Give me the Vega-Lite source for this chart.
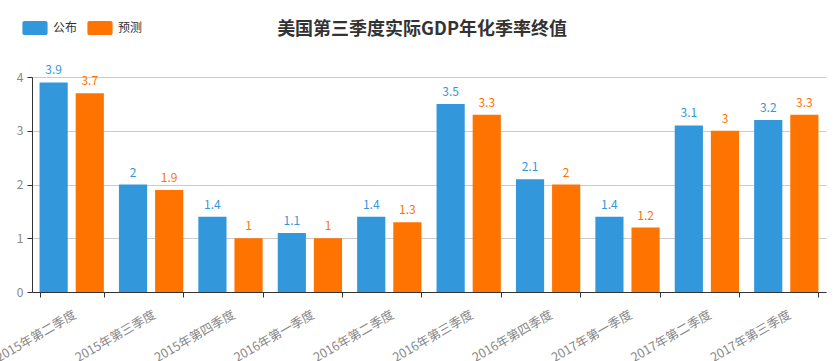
{
  "$schema": "https://vega.github.io/schema/vega-lite/v6.json",
  "width": 794,
  "height": 215,
  "autosize": {"type": "none"},
  "padding": {"left": 32, "top": 77, "right": 11, "bottom": 69},
  "background": "white",
  "title": {
    "text": "美国第三季度实际GDP年化季率终值",
    "font": "Noto Sans CJK SC",
    "fontSize": 18,
    "fontWeight": "bold",
    "color": "#333",
    "anchor": "middle",
    "offset": 0,
    "dy": 18,
    "dx": -7
  },
  "data": {
    "values": [
      {"q": "2015年第二季度", "s": "公布", "v": 3.9},
      {"q": "2015年第二季度", "s": "预测", "v": 3.7},
      {"q": "2015年第三季度", "s": "公布", "v": 2},
      {"q": "2015年第三季度", "s": "预测", "v": 1.9},
      {"q": "2015年第四季度", "s": "公布", "v": 1.4},
      {"q": "2015年第四季度", "s": "预测", "v": 1},
      {"q": "2016年第一季度", "s": "公布", "v": 1.1},
      {"q": "2016年第一季度", "s": "预测", "v": 1},
      {"q": "2016年第二季度", "s": "公布", "v": 1.4},
      {"q": "2016年第二季度", "s": "预测", "v": 1.3},
      {"q": "2016年第三季度", "s": "公布", "v": 3.5},
      {"q": "2016年第三季度", "s": "预测", "v": 3.3},
      {"q": "2016年第四季度", "s": "公布", "v": 2.1},
      {"q": "2016年第四季度", "s": "预测", "v": 2},
      {"q": "2017年第一季度", "s": "公布", "v": 1.4},
      {"q": "2017年第一季度", "s": "预测", "v": 1.2},
      {"q": "2017年第二季度", "s": "公布", "v": 3.1},
      {"q": "2017年第二季度", "s": "预测", "v": 3},
      {"q": "2017年第三季度", "s": "公布", "v": 3.2},
      {"q": "2017年第三季度", "s": "预测", "v": 3.3}
    ]
  },
  "encoding": {
    "x": {
      "field": "q",
      "type": "nominal",
      "sort": null,
      "title": null,
      "scale": {"paddingInner": 0.19, "paddingOuter": 0.095},
      "axis": {
        "labelAngle": -30,
        "labelAlign": "right",
        "labelBaseline": "top",
        "labelFont": "Noto Sans CJK SC",
        "labelFontSize": 12.5,
        "labelColor": "#888",
        "labelPadding": 11,
        "tickBand": "extent",
        "tickSize": 5,
        "tickColor": "#333",
        "domainColor": "#333",
        "labelOverlap": false
      }
    },
    "xOffset": {
      "field": "s",
      "type": "nominal",
      "scale": {"paddingInner": 0.22, "paddingOuter": 0}
    },
    "y": {
      "field": "v",
      "type": "quantitative",
      "title": null,
      "scale": {"domain": [0, 4], "nice": false},
      "axis": {
        "values": [0, 1, 2, 3, 4],
        "labelFont": "Noto Sans CJK SC",
        "labelFontSize": 12,
        "labelColor": "#888",
        "labelPadding": 4,
        "tickSize": 5,
        "tickColor": "#333",
        "domainColor": "#333",
        "gridColor": "#ccc"
      }
    },
    "color": {
      "field": "s",
      "type": "nominal",
      "title": null,
      "scale": {"domain": ["公布", "预测"], "range": ["#3398DB", "#FF7300"]},
      "legend": {
        "orient": "none",
        "legendX": -4,
        "legendY": -56,
        "direction": "horizontal",
        "symbolType": "M-1.5,-1H1.5A0.3,0.3 0 0 1 1.8,-0.7V0.7A0.3,0.3 0 0 1 1.5,1H-1.5A0.3,0.3 0 0 1 -1.8,0.7V-0.7A0.3,0.3 0 0 1 -1.5,-1Z",
        "symbolSize": 196,
        "symbolOpacity": 1,
        "symbolStrokeWidth": 0,
        "labelFont": "Noto Sans CJK SC",
        "labelFontSize": 12,
        "labelColor": "#333",
        "labelOffset": 11,
        "columnPadding": 9
      }
    }
  },
  "layer": [
    {"mark": {"type": "bar", "opacity": 1}},
    {
      "mark": {"type": "text", "dy": -5, "font": "Noto Sans CJK SC", "fontSize": 12, "baseline": "bottom"},
      "encoding": {"text": {"field": "v", "type": "quantitative"}}
    }
  ],
  "config": {"view": {"stroke": null}}
}
